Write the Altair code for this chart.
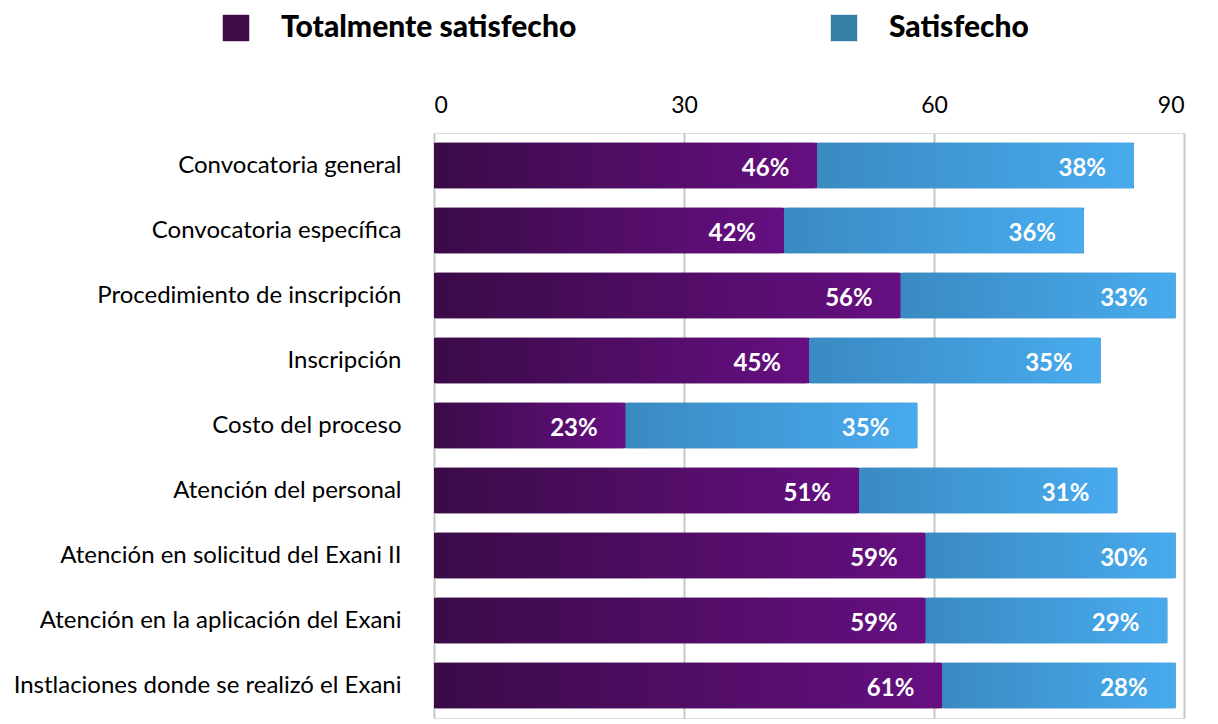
import altair as alt
import pandas as pd

categories = [
    "Convocatoria general",
    "Convocatoria específica",
    "Procedimiento de inscripción",
    "Inscripción",
    "Costo del proceso",
    "Atención del personal",
    "Atención en solicitud del Exani II",
    "Atención en la aplicación del Exani",
    "Instlaciones donde se realizó el Exani",
]
totalmente = [46, 42, 56, 45, 23, 51, 59, 59, 61]
satisfecho = [38, 36, 33, 35, 35, 31, 30, 29, 28]
series = ["Totalmente satisfecho", "Satisfecho"]
x_ticks = [0, 30, 60, 90]

rows = []
for c, t, s in zip(categories, totalmente, satisfecho):
    rows.append({"cat": c, "serie": series[0], "v": t, "x0": 0, "x1": t, "lab": f"{t}%"})
    rows.append({"cat": c, "serie": series[1], "v": s, "x0": t, "x1": t + s, "lab": f"{s}%"})
df = pd.DataFrame(rows)

FONT = "Lato"

y_enc = alt.Y(
    "cat:N",
    sort=categories,
    title=None,
    scale=alt.Scale(paddingInner=0.3, paddingOuter=0.15),
    axis=alt.Axis(
        labelFontSize=24,
        labelFont=FONT,
        labelColor="#000000",
        labelPadding=33,
        ticks=False,
        domain=False,
        grid=False,
        labelLimit=600,
    ),
)
x_enc = alt.X(
    "x0:Q",
    title=None,
    scale=alt.Scale(domain=[0, 90], nice=False),
    axis=alt.Axis(
        orient="top",
        values=x_ticks,
        labelFontSize=23,
        labelFont=FONT,
        labelColor="#000000",
        labelPadding=16,
        ticks=False,
        domain=False,
        grid=True,
        gridColor="#c8c8c8",
        gridWidth=2,
    ),
)

base = alt.Chart(df)

legend_bars = base.mark_bar().encode(
    y=y_enc,
    x=x_enc,
    x2="x1:Q",
    color=alt.Color(
        "serie:N",
        sort=series,
        scale=alt.Scale(domain=series, range=["#3e0a47", "#357ea4"]),
        legend=alt.Legend(
            title=None,
            orient="none",
            legendX=-213,
            legendY=-120,
            direction="horizontal",
            symbolType="square",
            symbolSize=700,
            symbolStrokeWidth=0,
            symbolOpacity=1,
            labelFontSize=30,
            labelFont=FONT,
            labelFontWeight=900,
            labelColor="#000000",
            labelLimit=600,
            labelOffset=30,
            columnPadding=252,
        ),
    ),
)

purple_grad = alt.Gradient(
    gradient="linear",
    stops=[
        alt.GradientStop(color="#3a0b47", offset=0),
        alt.GradientStop(color="#660f82", offset=1),
    ],
    x1=0, x2=1, y1=0, y2=0,
)
blue_grad = alt.Gradient(
    gradient="linear",
    stops=[
        alt.GradientStop(color="#3a8ac2", offset=0),
        alt.GradientStop(color="#48abee", offset=1),
    ],
    x1=0, x2=1, y1=0, y2=0,
)

bars_p = base.transform_filter(alt.datum.serie == series[0]).mark_bar(
    color=purple_grad, cornerRadius=3
).encode(y=alt.Y("cat:N", sort=categories), x="x0:Q", x2="x1:Q")
bars_b = base.transform_filter(alt.datum.serie == series[1]).mark_bar(
    color=blue_grad, cornerRadius=3
).encode(y=alt.Y("cat:N", sort=categories), x="x0:Q", x2="x1:Q")

labels = base.mark_text(
    align="right",
    baseline="middle",
    dx=-28,
    dy=3,
    fontSize=24,
    font=FONT,
    fontWeight="bold",
    color="white",
).encode(y=alt.Y("cat:N", sort=categories), x="x1:Q", text="lab:N")

chart = (
    alt.layer(legend_bars, bars_p, bars_b, labels)
    .properties(width=750, height=585)
    .configure_view(stroke=None)
    .configure(background="white")
)

chart.save("out.html", embed_options={"renderer": "svg", "actions": False})
